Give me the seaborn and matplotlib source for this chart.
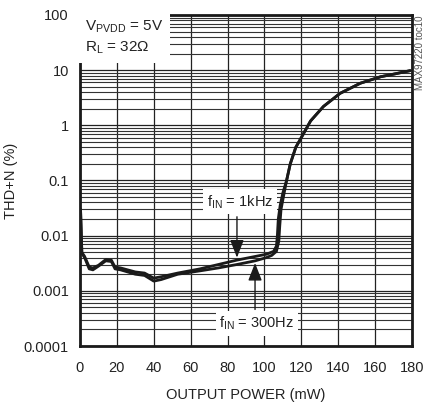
import numpy as np
import pandas as pd
import matplotlib
matplotlib.use("Agg")
import matplotlib.pyplot as plt
import seaborn as sns

# ---- data ----
x_1k = [0.3, 1, 2.5, 5, 7, 10, 14, 17, 19, 22, 30, 35, 40, 44, 53, 65, 75, 85, 95, 101, 105, 106.5,
        107, 107.5, 108.5, 110, 112, 114, 117, 120, 125, 132, 141, 152, 163, 171, 179]
y_1k = [0.03, 0.005, 0.0042, 0.0027, 0.0026, 0.0029, 0.0037, 0.0036, 0.0027, 0.0026, 0.0022, 0.0021,
        0.0017, 0.0018, 0.0021, 0.0025, 0.003, 0.0036, 0.0042, 0.0046, 0.0052, 0.0065,
        0.01, 0.02, 0.035, 0.06, 0.1, 0.2, 0.4, 0.6, 1.2, 2.2, 3.8, 5.8, 7.6, 8.6, 9.8]
x_300 = [0.3, 1, 2.5, 5, 7, 10, 14, 17, 19, 22, 30, 35, 40, 44, 53, 65, 75, 85, 95, 101, 104, 106.5,
         107.8, 108.3, 109, 110.5, 112, 114, 117, 120, 125, 132, 141, 152, 163, 171, 179]
y_300 = [0.03, 0.0048, 0.004, 0.0025, 0.0024, 0.0028, 0.0035, 0.0034, 0.0025, 0.0024, 0.0020, 0.0019,
         0.0015, 0.0016, 0.002, 0.0023, 0.0026, 0.003, 0.0035, 0.004, 0.0044, 0.0052,
         0.008, 0.015, 0.03, 0.055, 0.1, 0.2, 0.4, 0.6, 1.2, 2.2, 3.8, 5.8, 7.6, 8.6, 9.8]

x_ticks = [0, 20, 40, 60, 80, 100, 120, 140, 160, 180]
y_ticks = [0.0001, 0.001, 0.01, 0.1, 1, 10, 100]
y_tick_labels = ["0.0001", "0.001", "0.01", "0.1", "1", "10", "100"]

df = pd.concat([
    pd.DataFrame({"power": x_1k, "thd": y_1k, "freq": "1kHz"}),
    pd.DataFrame({"power": x_300, "thd": y_300, "freq": "300Hz"}),
])

sns.set_theme(style="white")
FONT = ["Liberation Sans Narrow", "Liberation Sans", "DejaVu Sans"]
plt.rcParams["font.family"] = FONT
plt.rcParams["mathtext.fontset"] = "custom"
plt.rcParams["mathtext.rm"] = "Liberation Sans"

FS = 10.5
TXT = "#222222"

fig = plt.figure(figsize=(4.30, 4.04), dpi=100)
ax = fig.add_axes([80 / 430, 1 - 346 / 404, 332 / 430, 331 / 404])

sns.lineplot(data=df, x="power", y="thd", units="freq", estimator=None, sort=False,
             color="#1a1a1a", linewidth=2.0, ax=ax, legend=False)

ax.set_yscale("log")
ax.set_xlim(0, 180)
ax.set_ylim(1e-4, 100)
ax.set_xticks(x_ticks)
ax.set_yticks(y_ticks, y_tick_labels)
ax.yaxis.set_minor_locator(matplotlib.ticker.LogLocator(base=10, subs=np.arange(2, 10)))
ax.yaxis.set_minor_formatter(matplotlib.ticker.NullFormatter())
ax.grid(True, which="major", axis="both", color="#222222", linewidth=0.9)
ax.grid(True, which="minor", axis="y", color="#333333", linewidth=0.8)
ax.tick_params(axis="both", which="both", length=0, labelsize=FS, colors=TXT)
ax.tick_params(axis="x", pad=11)
ax.tick_params(axis="y", pad=8)
for s in ax.spines.values():
    s.set_color("#1a1a1a")
    s.set_linewidth(2.0)
ax.set_xlabel("OUTPUT POWER (mW)", fontsize=FS, color=TXT, labelpad=9)
ax.set_ylabel("THD+N (%)", fontsize=FS, color=TXT)
ax.yaxis.set_label_coords(-(80 - 18) / 332, 0.5)

ax.text(0.015, 0.99, "V$_\\mathregular{PVDD}$ = 5V\nR$_\\mathregular{L}$ = 32Ω", transform=ax.transAxes,
        ha="left", va="top", fontsize=11, color=TXT,
        bbox=dict(boxstyle="square,pad=0.45", facecolor="white", edgecolor="none"),
        linespacing=1.35, zorder=5)

box = dict(boxstyle="square,pad=0.25", facecolor="white", edgecolor="none")
ax.text(86.8, 0.041, "f$_\\mathregular{IN}$ = 1kHz", ha="center", va="center", fontsize=FS,
        color=TXT, bbox=box, zorder=5)
ax.annotate("", xy=(85.1, 0.0040), xytext=(85.1, 0.022),
            arrowprops=dict(arrowstyle="-|>,head_length=0.9,head_width=0.35", color="#1a1a1a", lw=1.0,
                            shrinkA=0, shrinkB=0), zorder=6)
ax.text(96, 0.00026, "f$_\\mathregular{IN}$ = 300Hz", ha="center", va="center", fontsize=FS,
        color=TXT, bbox=box, zorder=5)
ax.annotate("", xy=(94.9, 0.0032), xytext=(94.9, 0.00046),
            arrowprops=dict(arrowstyle="-|>,head_length=0.9,head_width=0.35", color="#1a1a1a", lw=1.0,
                            shrinkA=0, shrinkB=0), zorder=6)

fig.text(420 / 430, 1 - 15 / 404, "MAX97220 toc10", rotation=90, ha="center", va="top",
         fontsize=7, color="#555555")

fig.savefig("out.png", dpi=100)
